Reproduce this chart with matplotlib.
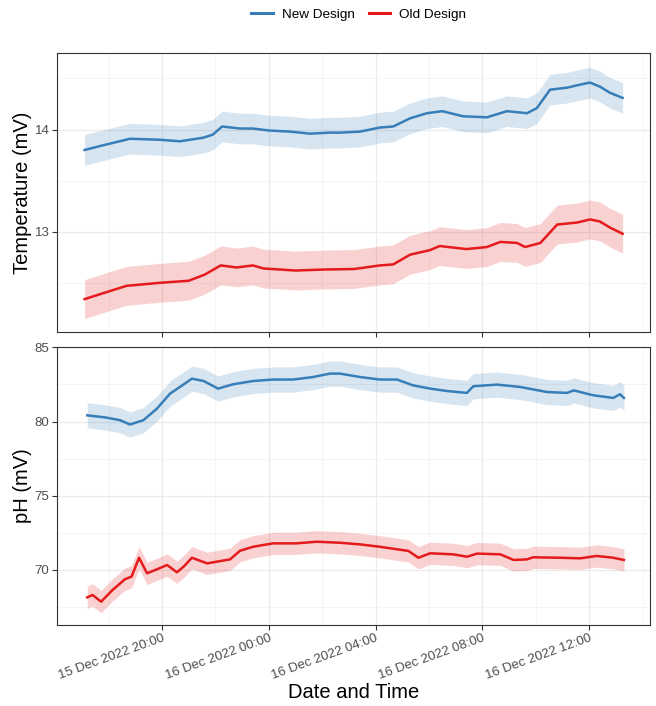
import pandas as pd
import matplotlib.pyplot as plt
import matplotlib.dates as mdates
from matplotlib.lines import Line2D

plt.rcParams["font.family"] = ["Liberation Sans", "DejaVu Sans"]

# time, hours relative to 15 Dec 2022 20:00
base = pd.Timestamp("2022-12-15 20:00")

temp_new_h = [-2.9, -2.3, -1.2, -0.07, 0.67, 1.54, 1.9, 2.25, 2.92, 3.4, 4.04, 4.8, 5.54, 6.3,
              6.67, 7.42, 8.16, 8.66, 9.29, 9.92, 10.5, 11.27, 12.17, 12.92, 13.67, 14.04,
              14.53, 15.17, 15.66, 16.03, 16.4, 16.78, 17.25]
temp_new = [13.80, 13.84, 13.91, 13.90, 13.885, 13.92, 13.95, 14.03, 14.01, 14.01, 13.99, 13.98,
            13.96, 13.97, 13.97, 13.98, 14.02, 14.03, 14.11, 14.16, 14.18, 14.13, 14.12, 14.18,
            14.16, 14.21, 14.39, 14.41, 14.44, 14.46, 14.42, 14.36, 14.31]

temp_old_h = [-2.9, -2.0, -1.33, -0.07, 1.0, 1.6, 2.2, 2.8, 3.4, 3.8, 5.0, 6.1, 7.2, 8.16, 8.66,
              9.29, 10.04, 10.4, 11.4, 12.17, 12.67, 13.3, 13.6, 14.17, 14.8, 15.55, 16.03,
              16.4, 16.78, 17.25]
temp_old = [12.34, 12.415, 12.47, 12.50, 12.52, 12.58, 12.67, 12.65, 12.67, 12.64, 12.62, 12.63,
            12.635, 12.67, 12.68, 12.775, 12.82, 12.86, 12.83, 12.85, 12.90, 12.89, 12.85, 12.89,
            13.07, 13.09, 13.12, 13.10, 13.04, 12.98]

ph_new_h = [-2.8, -2.1, -1.57, -1.2, -0.7, -0.19, 0.3, 0.67, 1.12, 1.56, 2.1, 2.66, 3.41, 4.16,
            4.9, 5.66, 6.29, 6.67, 7.42, 8.16, 8.8, 9.4, 10.04, 10.66, 11.42, 11.66, 12.55,
            13.42, 14.42, 15.17, 15.42, 16.15, 16.9, 17.15, 17.3]
ph_new = [80.42, 80.27, 80.09, 79.8, 80.09, 80.87, 81.88, 82.33, 82.89, 82.73, 82.22, 82.51,
          82.73, 82.83, 82.83, 83.0, 83.23, 83.23, 83.0, 82.83, 82.83, 82.44, 82.22, 82.06,
          81.93, 82.38, 82.49, 82.33, 81.99, 81.93, 82.1, 81.77, 81.59, 81.84, 81.59]

ph_old_h = [-2.8, -2.6, -2.28, -1.85, -1.39, -1.14, -0.86, -0.56, -0.19, 0.19, 0.56, 0.81, 1.12,
            1.69, 2.19, 2.55, 2.92, 3.41, 4.16, 5.03, 5.8, 6.67, 7.42, 8.16, 8.8, 9.23, 9.6,
            10.04, 10.91, 11.42, 11.8, 12.67, 13.17, 13.67, 13.9, 14.91, 15.66, 16.28, 16.9, 17.3]
ph_old = [68.15, 68.31, 67.86, 68.65, 69.37, 69.55, 70.82, 69.77, 70.04, 70.33, 69.84, 70.22,
          70.82, 70.44, 70.6, 70.71, 71.29, 71.56, 71.79, 71.79, 71.9, 71.83, 71.72, 71.56,
          71.39, 71.28, 70.82, 71.12, 71.05, 70.89, 71.1, 71.05, 70.67, 70.71, 70.85, 70.82,
          70.78, 70.94, 70.82, 70.67]

# half-width of the shaded bands
temp_new_ci, temp_old_ci = 0.15, 0.19
ph_new_ci, ph_old_ci = 0.85, 0.75

c_new = "#377EB8"
c_old = "#E41A1C"


def to_time(hours):
    return base + pd.to_timedelta(hours, unit="h")


fig = plt.figure(figsize=(6.56, 7.06), dpi=100)
ax1 = fig.add_axes([0.087, 0.530, 0.904, 0.395])
ax2 = fig.add_axes([0.087, 0.115, 0.904, 0.393])

panels = [
    (ax1, temp_new_h, temp_new, temp_new_ci, temp_old_h, temp_old, temp_old_ci,
     "Temperature (mV)", (12.02, 14.75), [13, 14], [12.5, 13.5, 14.5]),
    (ax2, ph_new_h, ph_new, ph_new_ci, ph_old_h, ph_old, ph_old_ci,
     "pH (mV)", (66.3, 85.0), [70, 75, 80, 85], [67.5, 72.5, 77.5, 82.5]),
]

for ax, nh, nv, nci, oh, ov, oci, ylab, ylim, yt, ymt in panels:
    nt = to_time(nh)
    ot = to_time(oh)
    ax.fill_between(nt, [v - nci for v in nv], [v + nci for v in nv],
                    color=c_new, alpha=0.2, lw=0)
    ax.fill_between(ot, [v - oci for v in ov], [v + oci for v in ov],
                    color=c_old, alpha=0.2, lw=0)
    ax.plot(nt, nv, color=c_new, lw=1.8)
    ax.plot(ot, ov, color=c_old, lw=1.8)

    ax.set_xlim(to_time(-3.93), to_time(18.28))
    ax.set_ylim(*ylim)
    ax.set_yticks(yt)
    ax.set_yticks(ymt, minor=True)
    ax.xaxis.set_major_locator(mdates.HourLocator(byhour=[0, 4, 8, 12, 16, 20]))
    ax.xaxis.set_minor_locator(mdates.HourLocator(byhour=[2, 6, 10, 14, 18, 22]))
    ax.xaxis.set_major_formatter(mdates.DateFormatter("%d %b %Y %H:%M"))

    ax.grid(which="major", color="#EBEBEB", lw=0.9)
    ax.grid(which="minor", color="#F3F3F3", lw=0.6)
    ax.set_axisbelow(True)
    for s in ax.spines.values():
        s.set_color("#333333")
        s.set_linewidth(0.8)
    ax.tick_params(which="major", length=3.5, width=0.8, color="#333333",
                   labelcolor="#4D4D4D", labelsize=9.5, pad=2)
    ax.tick_params(which="minor", length=0)
    ax.set_ylabel(ylab, fontsize=14.5, labelpad=2)

ax1.tick_params(axis="x", labelbottom=False)
for lab in ax2.get_xticklabels():
    lab.set_rotation(20)
    lab.set_ha("right")
    lab.set_rotation_mode("anchor")
ax2.set_xlabel("Date and Time", fontsize=14.5, labelpad=1)

handles = [Line2D([], [], color=c_new, lw=2.2), Line2D([], [], color=c_old, lw=2.2)]
fig.legend(handles, ["New Design", "Old Design"], loc="center", bbox_to_anchor=(0.547, 0.979),
           ncol=2, frameon=False, fontsize=9.7, handlelength=1.6, columnspacing=1.0,
           handletextpad=0.7)

fig.savefig("out.png", dpi=100)
